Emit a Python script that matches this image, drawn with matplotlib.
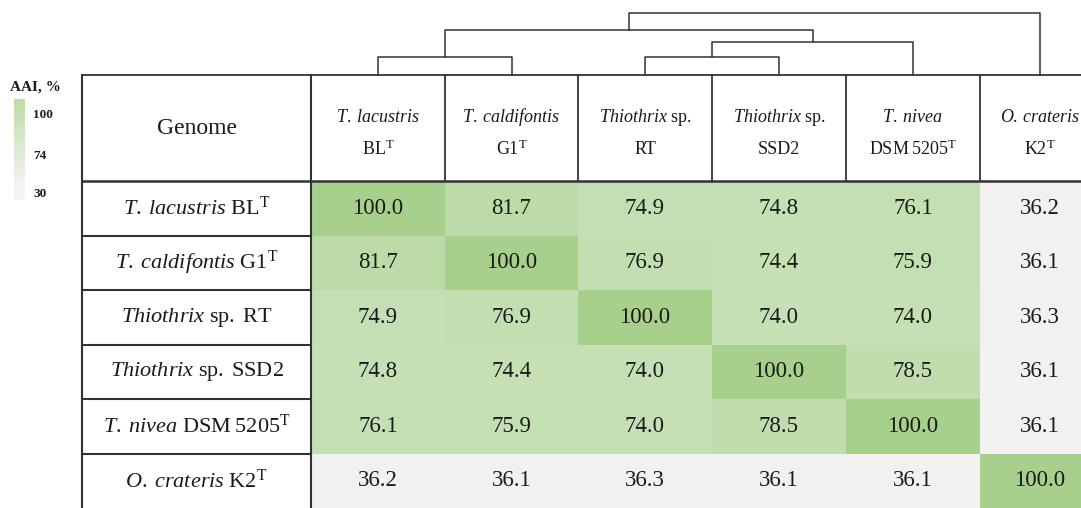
import numpy as np
import matplotlib
matplotlib.use("Agg")
from matplotlib import pyplot as plt
from matplotlib.colors import LinearSegmentedColormap, Normalize

plt.rcParams['font.family'] = 'Liberation Serif'
plt.rcParams['mathtext.fontset'] = 'custom'
plt.rcParams['mathtext.rm'] = 'Liberation Serif'
plt.rcParams['mathtext.it'] = 'Liberation Serif:italic'
plt.rcParams['mathtext.bf'] = 'Liberation Serif:bold'

# data
genomes = ["T. lacustris BL", "T. caldifontis G1", "Thiothrix sp. RT",
           "Thiothrix sp. SSD2", "T. nivea DSM 5205", "O. crateris K2"]
aai = np.array([
    [100.0, 81.7, 74.9, 74.8, 76.1, 36.2],
    [81.7, 100.0, 76.9, 74.4, 75.9, 36.1],
    [74.9, 76.9, 100.0, 74.0, 74.0, 36.3],
    [74.8, 74.4, 74.0, 100.0, 78.5, 36.1],
    [76.1, 75.9, 74.0, 78.5, 100.0, 36.1],
    [36.2, 36.1, 36.3, 36.1, 36.1, 100.0],
])
row_labels = [r"$\mathit{T.\;lacustris}\ \mathrm{BL}^{\mathrm{T}}$",
              r"$\mathit{T.\;caldifontis}\ \mathrm{G1}^{\mathrm{T}}$",
              r"$\mathit{Thiothrix}\ \mathrm{sp.\;RT}$",
              r"$\mathit{Thiothrix}\ \mathrm{sp.\;SSD2}$",
              r"$\mathit{T.\;nivea}\ \mathrm{DSM\;5205}^{\mathrm{T}}$",
              r"$\mathit{O.\;crateris}\ \mathrm{K2}^{\mathrm{T}}$"]
head_top = [r"$\mathit{T.\;lacustris}$", r"$\mathit{T.\;caldifontis}$",
            r"$\mathit{Thiothrix}\ \mathrm{sp.}$", r"$\mathit{Thiothrix}\ \mathrm{sp.}$",
            r"$\mathit{T.\;nivea}$", r"$\mathit{O.\,crateris}$"]
head_bot = [r"$\mathrm{BL}^{\mathrm{T}}$", r"$\mathrm{G1}^{\mathrm{T}}$", "RT", "SSD2",
            r"$\mathrm{DSM\;5205}^{\mathrm{T}}$", r"$\mathrm{K2}^{\mathrm{T}}$"]
# dendrogram merges (left, right, height above table)
merges = [(0, 1, 18), (2, 3, 18), (7, 4, 33), (6, 8, 45), (9, 5, 62)]
scale_ticks = [100, 74, 30]

# layout (pixels)
col_edges = np.array([311, 445, 578, 712, 846, 980, 1100])
row_edges = np.array([181, 235.5, 290, 344.5, 399, 453.5, 508])
x_left = 82
y_top = 75
lc = '#333333'
tc = '#1a1a1a'

cmap = LinearSegmentedColormap.from_list(
    'aai', [(0, '#f3f3f3'), (0.15, '#eff0ee'), (0.63, '#c6e0b5'), (1, '#a8d08d')])
norm = Normalize(30, 100)

fig = plt.figure(figsize=(10.81, 5.08), dpi=100)
ax = fig.add_axes([0, 0, 1, 1])

# heatmap cells
ax.pcolormesh(col_edges, row_edges, aai, cmap=cmap, norm=norm)
xc = (col_edges[:-1] + col_edges[1:]) / 2
yc = (row_edges[:-1] + row_edges[1:]) / 2
for i in range(len(genomes)):
    for j in range(len(genomes)):
        ax.text(xc[j], yc[i], f"{aai[i, j]:.1f}", ha='center', va='center',
                fontsize=16.5, color=tc)
    ax.text((x_left + col_edges[0]) / 2, yc[i], row_labels[i], ha='center',
            va='center', fontsize=16, color=tc)

# header
ax.text((x_left + col_edges[0]) / 2, 128, "Genome", ha='center', va='center',
        fontsize=17, color=tc)
for j in range(len(genomes)):
    ax.text(xc[j], 117, head_top[j], ha='center', va='center', fontsize=13, color=tc)
    ax.text(xc[j], 149, head_bot[j], ha='center', va='center', fontsize=13, color=tc)

# table lines
ax.plot([x_left, 1081], [y_top, y_top], color=lc, lw=1.3)
ax.plot([x_left, 1081], [row_edges[0]] * 2, color=lc, lw=1.8)
ax.plot([x_left, x_left], [y_top, 508], color=lc, lw=1.5)
ax.plot([col_edges[0], col_edges[0]], [y_top, 508], color=lc, lw=1.5)
for x in col_edges[1:-1]:
    ax.plot([x, x], [y_top, row_edges[0]], color=lc, lw=1.3)
for y in row_edges[1:-1]:
    ax.plot([x_left, col_edges[0]], [y, y], color=lc, lw=1.5)

# dendrogram
pos = {k: xc[k] for k in range(len(genomes))}
hgt = {k: 0 for k in range(len(genomes))}
for k, (a, b, h) in enumerate(merges):
    ax.plot([pos[a], pos[a], pos[b], pos[b]],
            [y_top - hgt[a], y_top - h, y_top - h, y_top - hgt[b]],
            color=lc, lw=1.1)
    pos[len(genomes) + k] = (pos[a] + pos[b]) / 2
    hgt[len(genomes) + k] = h

# legend
ax.text(10, 87, "AAI, %", ha='left', va='center', fontsize=11,
        fontweight='bold', color=tc)
grad = np.linspace(100, 30, 100).reshape(-1, 1)
ax.imshow(grad, cmap=cmap, norm=norm, extent=[14, 25, 200, 99],
          aspect='auto', alpha=0.75)
for t, y in zip(scale_ticks, [115, 156, 194]):
    ax.text(33, y, str(t), ha='left', va='center', fontsize=9.5,
            fontweight='bold', color=tc)

ax.set_xlim(0, 1081)
ax.set_ylim(508, 0)
ax.axis('off')

fig.savefig("out.png", dpi=100)
